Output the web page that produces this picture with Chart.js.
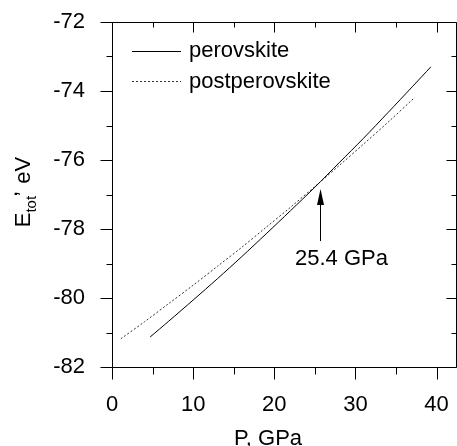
<!DOCTYPE html>
<html><head><meta charset="utf-8">
<script src="https://cdn.jsdelivr.net/npm/chart.js@4.4.1/dist/chart.umd.min.js"></script>
<style>html,body{margin:0;padding:0;background:#fff}#wrap{width:457px;height:446px;position:relative}</style>
</head><body><div id="wrap"><canvas id="c" width="457" height="446"></canvas></div>
<script>
// ---- data ----
const perovP = [4.7, 7, 10, 13, 16, 19, 22, 25, 28, 31, 34, 37, 39.3];
const perovE = [-81.13, -80.67, -80.06, -79.44, -78.80, -78.14, -77.47, -76.79, -76.08, -75.37, -74.63, -73.88, -73.30];
const postP = [1.1, 4, 7, 10, 13, 16, 19, 22, 25, 28, 31, 34, 37.3];
const postE = [-81.18, -80.69, -80.16, -79.63, -79.08, -78.53, -77.95, -77.37, -76.77, -76.16, -75.54, -74.91, -74.19];
const seriesNames = ['perovskite', 'postperovskite'];
const xMajor = [0, 10, 20, 30, 40];
const xMinor = [5, 15, 25, 35];
const yMajor = [-82, -80, -78, -76, -74, -72];
const yMinor = [-81, -79, -77, -75, -73];
const crossLabel = '25.4 GPa';

// ---- annotation placement (data units) ----
const arrowX = 25.6, arrowTopY = -76.84, arrowBottomY = -78.35;
const labelX = 22.55, labelY = -78.88;

const FONT = "'Liberation Sans', Arial, sans-serif";

const toPts = (xs, ys) => xs.map((v, i) => ({x: v, y: ys[i]}));

const decor = {
  id: 'decor',
  afterDatasetsDraw(chart) {
    const {ctx, chartArea: a, scales: {x, y}} = chart;
    const r = v => Math.round(v) + 0.5;
    ctx.save();
    ctx.strokeStyle = '#000';
    ctx.lineWidth = 1;
    // frame
    ctx.beginPath();
    ctx.rect(r(a.left), r(a.top), Math.round(a.right) - Math.round(a.left), Math.round(a.bottom) - Math.round(a.top));
    ctx.stroke();
    ctx.beginPath();
    // x ticks
    xMajor.forEach(v => { const p = r(x.getPixelForValue(v));
      ctx.moveTo(p, r(a.bottom)); ctx.lineTo(p, r(a.bottom) + 12);
      ctx.moveTo(p, r(a.top)); ctx.lineTo(p, r(a.top) + 10); });
    xMinor.forEach(v => { const p = r(x.getPixelForValue(v));
      ctx.moveTo(p, r(a.bottom)); ctx.lineTo(p, r(a.bottom) + 7);
      ctx.moveTo(p, r(a.top)); ctx.lineTo(p, r(a.top) + 5); });
    // y ticks
    yMajor.forEach(v => { const p = r(y.getPixelForValue(v));
      ctx.moveTo(r(a.left), p); ctx.lineTo(r(a.left) - 12, p);
      ctx.moveTo(r(a.right), p); ctx.lineTo(r(a.right) - 10, p); });
    yMinor.forEach(v => { const p = r(y.getPixelForValue(v));
      ctx.moveTo(r(a.left), p); ctx.lineTo(r(a.left) - 6, p);
      ctx.moveTo(r(a.right), p); ctx.lineTo(r(a.right) - 5, p); });
    ctx.stroke();

    // legend
    const ds = chart.data.datasets;
    const lx0 = a.left + 20, lx1 = a.left + 69, tx = a.left + 77;
    const rows = [a.top + 29, a.top + 59];
    ds.forEach((d, i) => {
      ctx.save();
      ctx.strokeStyle = d.borderColor; ctx.lineWidth = d.borderWidth;
      ctx.setLineDash(d.borderDash || []);
      ctx.beginPath(); ctx.moveTo(lx0, rows[i] + 0.5); ctx.lineTo(lx1, rows[i] + 0.5); ctx.stroke();
      ctx.restore();
      ctx.fillStyle = '#000'; ctx.font = '22px ' + FONT; ctx.textBaseline = 'alphabetic'; ctx.textAlign = 'left';
      ctx.fillText(d.label, tx, rows[i] + 6 + i * 1);
    });

    // arrow annotation
    const ax = r(x.getPixelForValue(arrowX));
    const at = y.getPixelForValue(arrowTopY), ab = y.getPixelForValue(arrowBottomY);
    ctx.beginPath(); ctx.moveTo(ax, ab); ctx.lineTo(ax, at + 14); ctx.stroke();
    ctx.beginPath(); ctx.moveTo(ax, at); ctx.lineTo(ax - 3.5, at + 16); ctx.lineTo(ax + 3.5, at + 16); ctx.closePath();
    ctx.fillStyle = '#000'; ctx.fill();
    ctx.font = '22px ' + FONT; ctx.textAlign = 'left'; ctx.textBaseline = 'middle';
    ctx.fillText(crossLabel, x.getPixelForValue(labelX), y.getPixelForValue(labelY));

    // x title
    ctx.textAlign = 'center'; ctx.textBaseline = 'alphabetic';
    ctx.fillText('P, GPa', 268, 445);

    // y title (rotated, with subscript)
    ctx.save();
    ctx.translate(30, 192);
    ctx.rotate(-Math.PI / 2);
    const big = '22px ' + FONT, small = '15px ' + FONT;
    ctx.font = big; const wE = ctx.measureText('E').width;
    ctx.font = small; const wT = ctx.measureText('tot').width;
    ctx.font = big; const wC = ctx.measureText(',').width, wR = ctx.measureText(' eV').width;
    let cx = -(wE + wT + wC + wR) / 2;
    ctx.textAlign = 'left'; ctx.textBaseline = 'alphabetic';
    ctx.font = big; ctx.fillText('E', cx, 0); cx += wE;
    ctx.font = small; ctx.fillText('tot', cx, 6); cx += wT;
    ctx.font = big; ctx.fillText(',', cx - 1, -13); cx += wC;
    ctx.fillText(' eV', cx, 0);
    ctx.restore();

    ctx.restore();
  }
};

new Chart(document.getElementById('c'), {
  type: 'line',
  data: {
    datasets: [
      {label: seriesNames[0], data: toPts(perovP, perovE), borderColor: '#000', borderWidth: 1,
       pointRadius: 0, fill: false, tension: 0.3},
      {label: seriesNames[1], data: toPts(postP, postE), borderColor: '#333', borderWidth: 1,
       borderDash: [2, 2], pointRadius: 0, fill: false, tension: 0.3}
    ]
  },
  options: {
    responsive: false,
    animation: false,
    devicePixelRatio: 1,
    layout: {padding: {left: 0, right: 1, top: 22, bottom: 0}},
    plugins: {legend: {display: false}, tooltip: {enabled: false}},
    scales: {
      x: {
        type: 'linear', min: 0, max: 42.4,
        afterFit: s => { s.height = 79; },
        ticks: {stepSize: 10, includeBounds: false, color: '#000', font: {family: FONT, size: 22}, padding: 0, maxRotation: 0},
        grid: {drawOnChartArea: false, drawTicks: true, tickLength: 25, color: 'rgba(0,0,0,0)'},
        border: {display: false}
      },
      y: {
        type: 'linear', min: -82, max: -72,
        afterFit: s => { s.width = 112; },
        ticks: {stepSize: 2, includeBounds: false, color: '#000', font: {family: FONT, size: 22}, padding: 0},
        grid: {drawOnChartArea: false, drawTicks: true, tickLength: 27, color: 'rgba(0,0,0,0)'},
        border: {display: false}
      }
    }
  },
  plugins: [decor]
});
</script>
</body></html>
